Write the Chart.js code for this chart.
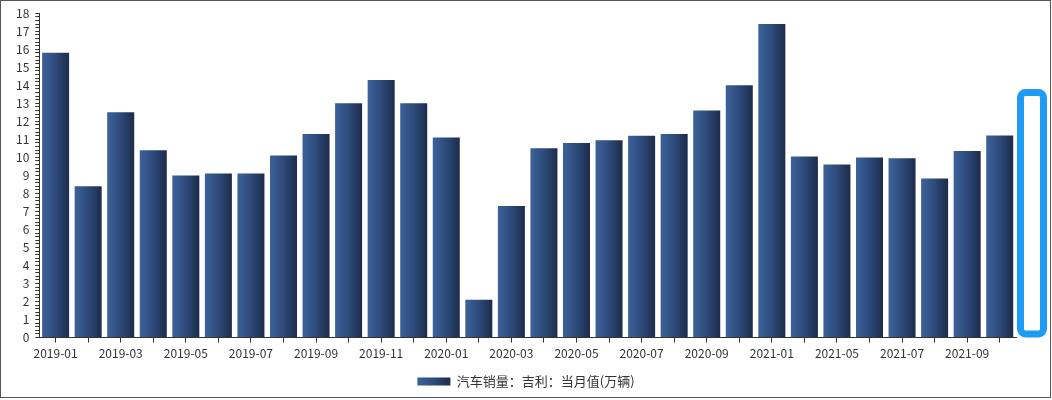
<!DOCTYPE html>
<html>
<head>
<meta charset="utf-8">
<script src="https://cdn.jsdelivr.net/npm/chart.js@4/dist/chart.umd.min.js"></script>
<style>
  body { margin: 0; background: #fff; }
  #wrap { position: relative; width: 1052px; height: 400px; }
  #frame { position: absolute; left: 0; top: 0; width: 1049px; height: 396px; border: 1px solid #555; pointer-events: none; }
</style>
</head>
<body>
<div id="wrap">
  <canvas id="grafico" width="1052" height="400"></canvas>
  <div id="frame"></div>
</div>
<script>
const meses = [
  "2019-01", "2019-02", "2019-03", "2019-04", "2019-05", "2019-06",
  "2019-07", "2019-08", "2019-09", "2019-10", "2019-11", "2019-12",
  "2020-01", "2020-02", "2020-03", "2020-04", "2020-05", "2020-06",
  "2020-07", "2020-08", "2020-09", "2020-10", "2021-01", "2021-04",
  "2021-05", "2021-06", "2021-07", "2021-08", "2021-09", "2021-10"
];
const ventas = [
  15.8, 8.4, 12.5, 10.4, 9.0, 9.1, 9.1, 10.1, 11.3, 13.0, 14.3, 13.0,
  11.1, 2.1, 7.3, 10.5, 10.8, 10.95, 11.2, 11.3, 12.6, 14.0, 17.4, 10.05,
  9.6, 10.0, 9.95, 8.83, 10.35, 11.22
];
const etiqueta = "汽车销量：吉利：当月值(万辆)";
const yMax = 18;
const valorMarco = 13.8; // altura del recuadro azul

const fuente = { family: "'Noto Sans CJK SC', 'Noto Sans', sans-serif", size: 12 };
const barPct = 0.83;

function degradado(ctx, x0, x1) {
  const g = ctx.createLinearGradient(x0, 0, x1, 0);
  g.addColorStop(0, "#3c629b");
  g.addColorStop(0.5, "#2d4a7a");
  g.addColorStop(1, "#1d2c4a");
  return g;
}

function colorBarra(c) {
  const chart = c.chart;
  if (c.type !== "data" || !chart.chartArea || !chart.scales.x) return "#2d4a7a";
  const x = chart.scales.x;
  const cx = x.getPixelForValue(c.dataIndex);
  const half = (x.width / meses.length) * barPct / 2;
  return degradado(chart.ctx, cx - half, cx + half);
}

// recuadro azul a la derecha y degradado de la leyenda
const extras = {
  id: "extras",
  beforeDraw(chart) {
    const lg = chart.legend;
    if (!lg) return;
    // centrar la leyenda en todo el ancho del lienzo
    lg.left = 0;
    lg.right = chart.width;
    if (lg.legendHitBoxes && lg.legendHitBoxes[0] && lg.legendItems[0]) {
      const w = lg.legendHitBoxes[0].width;
      const left = (chart.width - w) / 2;
      lg.legendItems[0].fillStyle = degradado(chart.ctx, left, left + 33);
    }
  },
  afterDraw(chart) {
    const ctx = chart.ctx;
    const y = chart.scales.y;
    const area = chart.chartArea;
    const x0 = area.right + 4.5, x1 = area.right + 27.5;
    const y0 = y.getPixelForValue(valorMarco) + 3.5, y1 = y.getPixelForValue(0) - 3.5;
    ctx.save();
    ctx.strokeStyle = "#1e9bf2";
    ctx.lineWidth = 7;
    ctx.beginPath();
    ctx.roundRect(x0, y0, x1 - x0, y1 - y0, 5);
    ctx.stroke();
    ctx.restore();
  }
};

new Chart(document.getElementById("grafico").getContext("2d"), {
  type: "bar",
  data: {
    labels: meses,
    datasets: [{
      label: etiqueta,
      data: ventas,
      backgroundColor: colorBarra,
      borderWidth: 0,
      categoryPercentage: 1,
      barPercentage: barPct
    }]
  },
  options: {
    responsive: false,
    animation: false,
    layout: { padding: { left: 10, right: 36, top: 10, bottom: 2 } },
    plugins: {
      tooltip: { enabled: false },
      legend: {
        position: "bottom",
        labels: {
          boxWidth: 33,
          boxHeight: 8,
          color: "#333",
          font: { family: fuente.family, size: 13 },
          padding: 10
        }
      }
    },
    scales: {
      x: {
        grid: { drawOnChartArea: false, offset: false, tickLength: 5, color: "#333" },
        border: { color: "#333" },
        ticks: {
          autoSkip: false,
          maxRotation: 0,
          color: "#333",
          font: fuente,
          padding: 4,
          callback: function (v, i) { return i % 2 === 0 ? meses[i] : ""; }
        }
      },
      y: {
        min: 0,
        max: yMax,
        grid: { drawOnChartArea: false, tickLength: 4, color: "#333" },
        border: { color: "#333" },
        ticks: {
          stepSize: 0.2,
          maxTicksLimit: 200,
          autoSkip: false,
          color: "#333",
          font: fuente,
          padding: 6,
          callback: function (v) {
            return Math.abs(v - Math.round(v)) < 1e-6 ? String(Math.round(v)) : "";
          }
        }
      }
    }
  },
  plugins: [extras]
});
</script>
</body>
</html>
